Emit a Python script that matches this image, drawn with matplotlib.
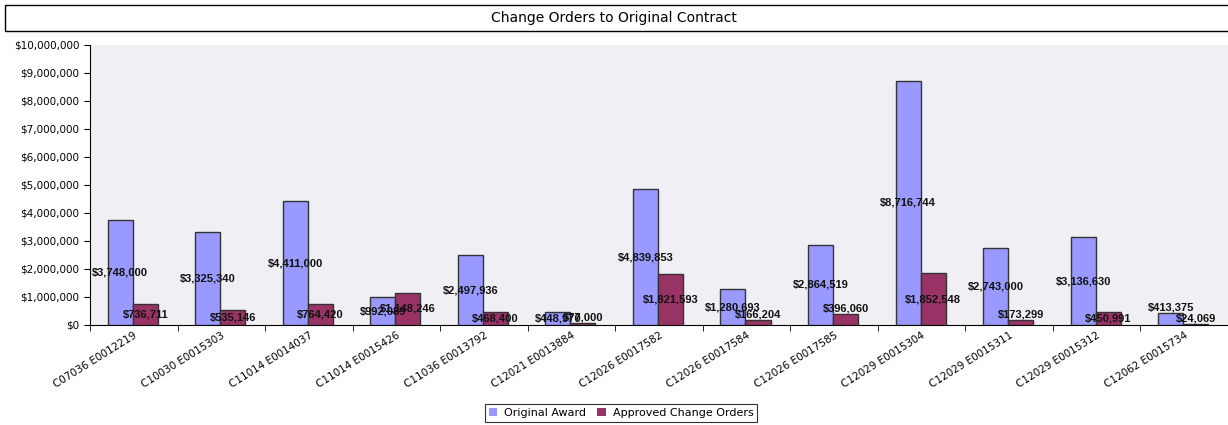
import matplotlib
matplotlib.use("Agg")
import matplotlib.pyplot as plt
import numpy as np
from matplotlib.patches import Rectangle
from matplotlib.ticker import FuncFormatter, MultipleLocator

categories = ["C07036 E0012219", "C10030 E0015303", "C11014 E0014037", "C11014 E0015426",
              "C11036 E0013792", "C12021 E0013884", "C12026 E0017582", "C12026 E0017584",
              "C12026 E0017585", "C12029 E0015304", "C12029 E0015311", "C12029 E0015312",
              "C12062 E0015734"]
original_award = [3748000, 3325340, 4411000, 992089, 2497936, 448970, 4839853, 1280693,
                  2864519, 8716744, 2743000, 3136630, 413375]
change_orders = [736711, 535146, 764420, 1148246, 468400, 77000, 1821593, 166204,
                 396060, 1852548, 173299, 450991, 24069]
series_names = ["Original Award", "Approved Change Orders"]
colors = ["#9999FF", "#993366"]

W, H = 1228, 425
fig = plt.figure(figsize=(W / 100, H / 100), dpi=100)
fig.patch.set_facecolor("white")

# title box
fig.add_artist(Rectangle((5 / W, 1 - 31 / H), 1.0, 26 / H, transform=fig.transFigure,
                         facecolor="white", edgecolor="black", linewidth=1.0))
fig.text(0.5, 1 - 18 / H, "Change Orders to Original Contract", ha="center", va="center",
         fontsize=10, family="DejaVu Sans")

ax = fig.add_axes([90 / W, 1 - 325 / H, 1 - 90 / W, 280 / H])
ax.set_facecolor("#EFEFF4")

x = np.arange(len(categories))
bw = 0.286
for i, (vals, c, name) in enumerate(zip([original_award, change_orders], colors, series_names)):
    pos = x + (i - 0.5) * bw - 0.012
    ax.bar(pos, vals, width=bw, color=c, edgecolor="#333333", linewidth=1.0,
           label=name, zorder=3)
    for p, v in zip(pos, vals):
        if v >= 420000:
            ly = max(v / 2, 220000)
        else:
            ly = v + 200000
        ax.text(p, ly, "${:,}".format(v), ha="center", va="center", fontsize=8,
                fontweight="bold", family="Liberation Sans", color="#111111", zorder=5)

ax.set_xlim(-0.5, len(categories) - 0.5)
ax.set_ylim(0, 10000000)
ax.yaxis.set_major_locator(MultipleLocator(1000000))
ax.yaxis.set_major_formatter(FuncFormatter(lambda v, p: "${:,.0f}".format(v)))
ax.set_xticks(x)
ax.set_xticklabels(categories, rotation=32, ha="right", rotation_mode="anchor", fontsize=7.5)
ax.tick_params(axis="x", length=0, pad=4)
ax.set_xticks(np.arange(-0.5, len(categories) + 0.5, 1), minor=True)
ax.tick_params(axis="x", which="minor", length=4, direction="out")
ax.tick_params(axis="y", labelsize=7.5, length=4, direction="out")
for s in ["top", "right"]:
    ax.spines[s].set_visible(False)
for s in ["left", "bottom"]:
    ax.spines[s].set_color("black")

leg = fig.legend(loc="center", bbox_to_anchor=(621 / W, 1 - 413 / H), ncol=2, fontsize=8,
                 frameon=True, fancybox=False, edgecolor="black", handlelength=0.8,
                 handleheight=0.8, handletextpad=0.6, columnspacing=1.0, borderpad=0.35)
for h in leg.legend_handles:
    h.set_edgecolor("none")
leg.get_frame().set_linewidth(0.8)

fig.savefig("out.png", dpi=100)
